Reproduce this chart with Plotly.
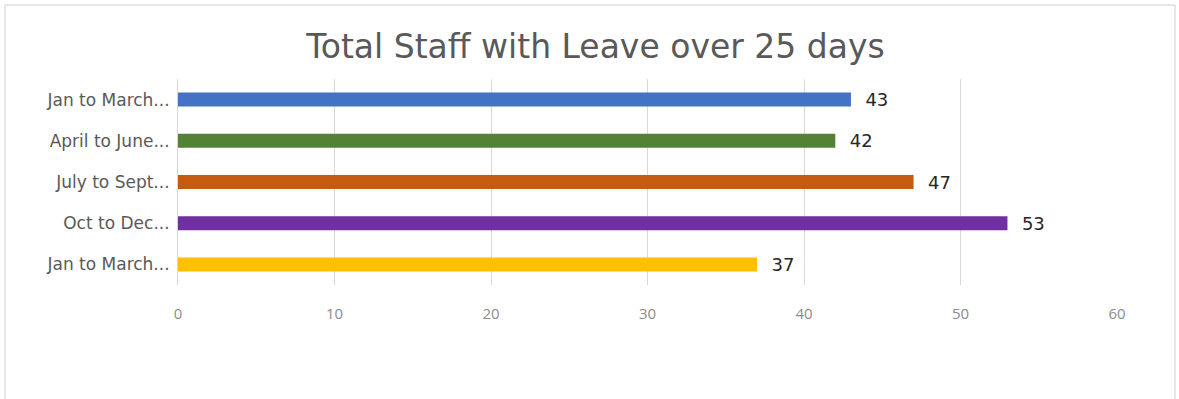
import plotly.graph_objects as go

categories = ["Jan to March...", "April to June...", "July to Sept...", "Oct to Dec...", "Jan to March..."]
values = [43, 42, 47, 53, 37]
colors = ["#4472C4", "#548235", "#C55A11", "#7030A0", "#FFC000"]
x_ticks = [0, 10, 20, 30, 40, 50, 60]

positions = list(range(len(categories)))

fig = go.Figure()
fig.add_trace(go.Bar(
    x=values,
    y=positions,
    orientation="h",
    marker=dict(color=colors, line=dict(width=0)),
    width=0.34,
    text=[str(v) for v in values],
    texttemplate="  %{text}",
    textposition="outside",
    constraintext="none",
    textfont=dict(family="DejaVu Sans", size=18, color="#262626"),
    cliponaxis=False,
    hoverinfo="skip",
))

L, R, T, B = 178, 62, 79, 114
W, H = 1179, 399
pw = W - L - R
ph = H - T - B

fig.update_layout(
    width=W, height=H,
    margin=dict(l=L, r=R, t=T, b=B),
    paper_bgcolor="white",
    plot_bgcolor="white",
    showlegend=False,
    title=dict(
        text="Total Staff with Leave over 25 days",
        x=0.505, xanchor="center",
        y=1 - 46 / H, yanchor="middle",
        font=dict(family="DejaVu Sans", size=33, color="#595959"),
    ),
    xaxis=dict(
        range=[0, 60],
        tickvals=x_ticks,
        ticktext=[str(t) for t in x_ticks],
        showgrid=True,
        gridcolor="#D9D9D9",
        gridwidth=1,
        zeroline=False,
        showline=False,
        ticks="",
        ticklabelstandoff=18,
        tickfont=dict(family="Open Sans", size=15, color="#8C8C8C"),
    ),
    yaxis=dict(
        tickvals=positions,
        ticktext=categories,
        range=[4.5, -0.5],
        showgrid=False,
        zeroline=False,
        showline=True,
        linecolor="#D9D9D9",
        linewidth=1,
        ticks="",
        ticklabelstandoff=4,
        tickfont=dict(family="DejaVu Sans", size=17, color="#595959"),
    ),
    shapes=[dict(
        type="rect", xref="paper", yref="paper",
        x0=(5 - L) / pw, x1=(1175 - L) / pw,
        y0=(H - B - 402) / ph, y1=(H - B - 5) / ph,
        line=dict(color="#D0D0D0", width=1),
        fillcolor="rgba(0,0,0,0)",
        layer="below",
    )],
)

fig.write_html("out.html")
